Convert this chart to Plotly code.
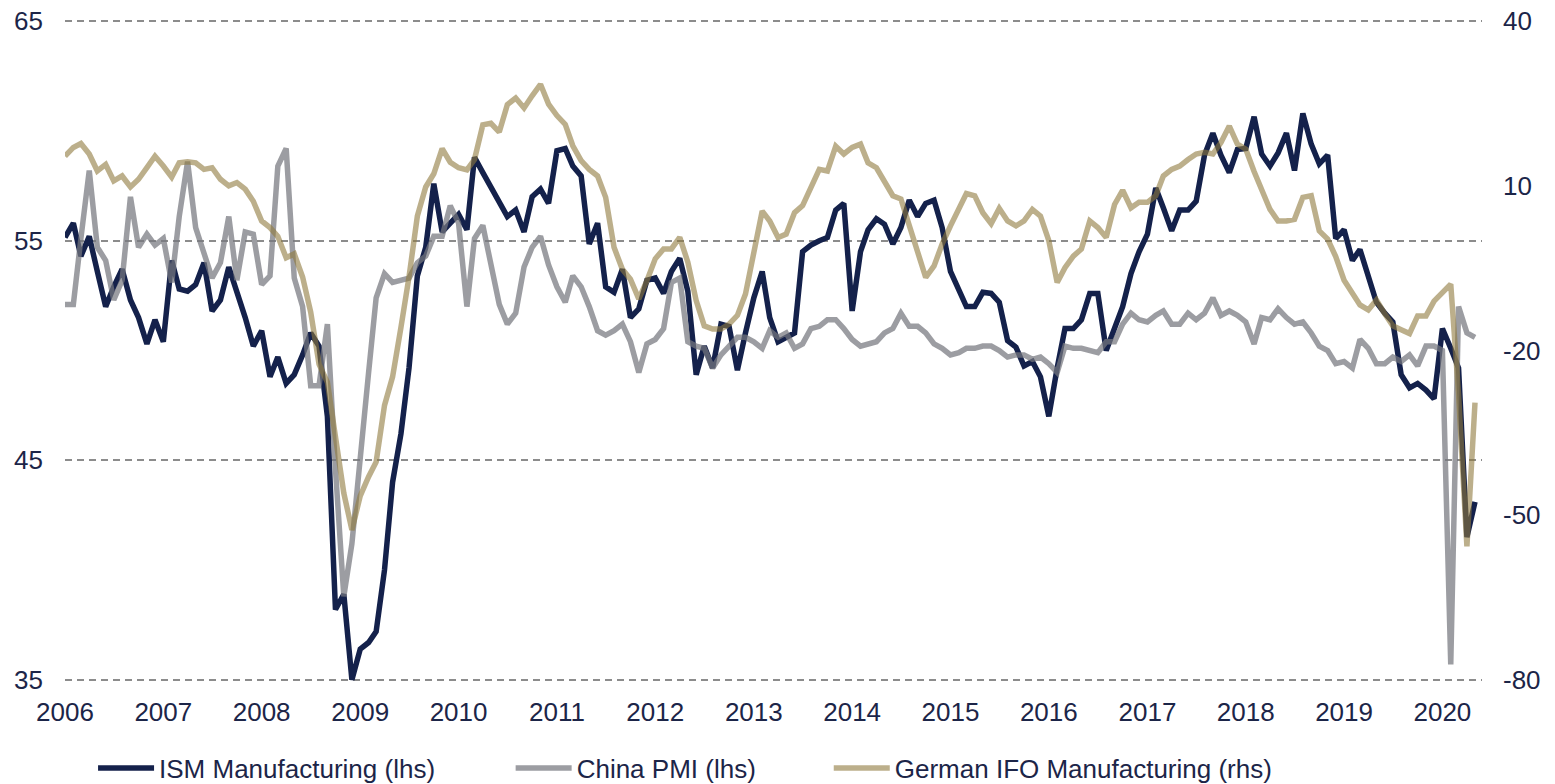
import pandas as pd
import plotly.graph_objects as go

# Monthly data, Jan 2006 - May 2020
months = pd.date_range("2006-01-01", periods=173, freq="MS")

ism = [
    55.15, 55.8, 54.3, 55.2, 53.6, 52.0, 52.9, 53.7, 52.3, 51.5, 50.3, 51.4,
    50.4, 54.1, 52.8, 52.7, 53.0, 54.0, 51.8, 52.3, 53.8, 52.7, 51.5, 50.2,
    50.9, 48.8, 49.7, 48.5, 48.9, 49.8, 50.8, 50.2, 47.0, 38.2, 38.9, 35.0,
    36.4, 36.7, 37.2, 40.0, 44.0, 46.2, 49.2, 53.4, 54.7, 57.6, 55.4, 55.8,
    56.2, 55.5, 58.8, 58.1, 57.4, 56.7, 56.1, 56.4, 55.4, 57.0, 57.35, 56.7,
    59.1, 59.2, 58.4, 57.95, 54.85, 55.8, 52.9, 52.65, 53.7, 51.5, 51.9, 53.2,
    53.3, 52.6, 53.6, 54.2, 52.7, 48.9, 50.2, 49.2, 51.2, 51.1, 49.1, 50.8,
    52.4, 53.6, 51.5, 50.4, 50.6, 50.8, 54.5, 54.8, 55.0, 55.15, 56.4, 56.7,
    51.8, 54.5, 55.5, 56.0, 55.75, 54.85, 55.6, 56.85, 56.1, 56.7, 56.85, 55.6,
    53.6, 52.7, 52.0, 52.0, 52.65, 52.6, 52.2, 50.45, 50.15, 49.3, 49.5, 48.8,
    47.0, 49.2, 51.0, 51.0, 51.4, 52.6, 52.6, 50.0, 51.1, 52.0, 53.5, 54.5,
    55.3, 57.4, 56.5, 55.45, 56.4, 56.4, 56.8, 58.9, 59.9, 58.9, 58.1, 59.15,
    59.2, 60.65, 58.95, 58.4, 59.0, 59.9, 58.2, 60.8, 59.4, 58.5, 58.9, 55.1,
    55.5, 54.1, 54.6, 53.3, 52.2, 51.7, 51.3, 48.9, 48.3, 48.5, 48.2, 47.8,
    51.0, 50.1, 49.2, 41.5, 43.1,
]

china_pmi = [
    52.1, 52.1, 55.1, 58.2, 54.7, 54.1, 52.3, 53.2, 57.0, 54.7, 55.3, 54.8,
    55.1, 53.1, 56.1, 58.6, 55.6, 54.4, 53.3, 54.0, 56.1, 53.2, 55.4, 55.3,
    53.0, 53.4, 58.4, 59.2, 53.3, 52.0, 48.4, 48.4, 51.2, 44.6, 38.8, 41.2,
    45.3, 49.0, 52.4, 53.5, 53.1, 53.2, 53.3, 54.0, 54.3, 55.2, 55.2, 56.6,
    55.8, 52.0, 55.1, 55.7, 53.9, 52.1, 51.2, 51.7, 53.8, 54.7, 55.2, 53.9,
    52.9, 52.2, 53.4, 52.9, 52.0, 50.9, 50.7, 50.9, 51.2, 50.4, 49.0, 50.3,
    50.5, 51.0, 53.1, 53.3, 50.4, 50.2, 50.1, 49.2, 49.8, 50.2, 50.6, 50.6,
    50.4, 50.1, 50.9, 50.6, 50.8, 50.1, 50.3, 51.0, 51.1, 51.4, 51.4, 51.0,
    50.5, 50.2, 50.3, 50.4, 50.8, 51.0, 51.7, 51.1, 51.1, 50.8, 50.3, 50.1,
    49.8, 49.9, 50.1, 50.1, 50.2, 50.2, 50.0, 49.7, 49.8, 49.8, 49.6, 49.7,
    49.4, 49.0, 50.2, 50.1, 50.1, 50.0, 49.9, 50.4, 50.4, 51.2, 51.7, 51.4,
    51.3, 51.6, 51.8, 51.2, 51.2, 51.7, 51.4, 51.7, 52.4, 51.6, 51.8, 51.6,
    51.3, 50.3, 51.5, 51.4, 51.9, 51.5, 51.2, 51.3, 50.8, 50.2, 50.0, 49.4,
    49.5, 49.2, 50.5, 50.1, 49.4, 49.4, 49.7, 49.5, 49.8, 49.3, 50.2, 50.2,
    50.0, 35.7, 52.0, 50.8, 50.6,
]

ifo_mfg = [
    15.4, 17.0, 17.7, 15.8, 12.7, 13.9, 10.9, 11.8, 9.8, 11.2, 13.3, 15.4,
    13.6, 11.6, 14.2, 14.4, 14.2, 13.0, 13.3, 11.2, 10.0, 10.6, 9.4, 7.2,
    3.6, 2.4, 0.8, -3.1, -2.4, -6.6, -13.0, -22.5, -25.8, -36.5, -46.0, -52.7,
    -46.5, -43.0, -40.3, -30.0, -24.8, -15.8, -6.6, 4.5, 9.8, 12.2, 16.8, 14.3,
    13.3, 12.9, 14.8, 21.1, 21.4, 19.8, 24.8, 26.0, 24.2, 26.4, 28.5, 24.9,
    22.8, 21.2, 17.3, 14.6, 13.0, 11.8, 7.9, -1.2, -5.2, -7.0, -10.6, -7.3,
    -3.3, -1.5, -1.5, 0.6, -3.9, -10.9, -15.5, -16.1, -16.1, -15.2, -13.6, -9.7,
    -2.6, 5.4, 3.6, 0.6, 1.2, 5.1, 6.4, 9.7, 13.0, 12.7, 17.2, 15.8,
    17.0, 17.6, 14.2, 13.3, 10.9, 8.2, 7.6, 3.0, -1.8, -6.7, -4.6, -0.6,
    2.7, 6.0, 8.6, 8.2, 5.1, 3.1, 5.9, 3.6, 2.7, 3.6, 5.7, 4.5,
    0.0, -7.6, -4.9, -2.8, -1.5, 3.6, 2.4, 0.6, 6.6, 9.2, 6.0, 7.0,
    7.0, 8.2, 11.8, 13.0, 13.6, 14.8, 15.8, 16.1, 15.8, 17.9, 20.9, 17.6,
    16.7, 12.6, 9.3, 5.7, 3.6, 3.6, 3.9, 7.9, 8.2, 1.8, 0.3, -2.9,
    -7.2, -9.7, -11.7, -12.6, -10.8, -13.3, -15.5, -16.2, -16.9, -13.7, -13.7, -11.0,
    -9.4, -7.9, -28.0, -55.7, -29.5,
]

series_names = ["ISM Manufacturing (lhs)", "China PMI (lhs)", "German IFO Manufacturing (rhs)"]
year_ticks = pd.date_range("2006-01-01", "2020-01-01", freq="YS")
year_labels = [str(d.year) for d in year_ticks]
lhs_ticks = [35, 45, 55, 65]
rhs_ticks = [-80, -50, -20, 10, 40]
rhs_labels = [str(v) for v in rhs_ticks]

NAVY = "#14214b"
GREY = "rgba(118,119,126,0.72)"
TAN = "rgba(143,121,62,0.6)"
TEXT = "#1c2548"
FONT = "Liberation Sans, Arial, sans-serif"
FS = 26
LW = 5.5

fig = go.Figure()
fig.add_trace(go.Scatter(x=months, y=ism, name=series_names[0], mode="lines",
                         line=dict(color=NAVY, width=LW), yaxis="y", legend="legend"))
fig.add_trace(go.Scatter(x=months, y=china_pmi, name=series_names[1], mode="lines",
                         line=dict(color=GREY, width=LW), yaxis="y", legend="legend2"))
fig.add_trace(go.Scatter(x=months, y=ifo_mfg, name=series_names[2], mode="lines",
                         line=dict(color=TAN, width=LW), yaxis="y2", legend="legend3"))

leg_common = dict(orientation="h", y=-0.13, yanchor="middle", xanchor="left",
                  font=dict(size=FS, color=TEXT, family=FONT), itemwidth=56,
                  bgcolor="rgba(0,0,0,0)", borderwidth=0)

fig.update_layout(
    width=1555, height=784,
    margin=dict(l=65, r=73, t=18.8, b=101.8, autoexpand=False),
    paper_bgcolor="white", plot_bgcolor="white",
    font=dict(family=FONT, size=FS, color=TEXT),
    showlegend=True,
    legend=dict(x=0.0198, **leg_common),
    legend2=dict(x=0.3145, **leg_common),
    legend3=dict(x=0.539, **leg_common),
    xaxis=dict(type="date", range=["2006-01-01", "2020-05-27"],
               tickvals=year_ticks, ticktext=year_labels,
               showgrid=False, zeroline=False, showline=False, ticks="",
               ticklabelstandoff=12, tickfont=dict(size=FS, color=TEXT)),
    yaxis=dict(range=[34.9, 65.1], tickvals=lhs_ticks, showgrid=True,
               gridcolor="#8c8c8c", griddash="7px,5px", gridwidth=1.5,
               zeroline=False, showline=False, ticks="",
               ticklabelstandoff=21, tickfont=dict(size=FS, color=TEXT)),
    yaxis2=dict(range=[-80.4, 40.4], tickvals=rhs_ticks, ticktext=rhs_labels,
                overlaying="y", side="right",
                showgrid=False, zeroline=False, showline=False, ticks="",
                ticklabelstandoff=20, tickfont=dict(size=FS, color=TEXT)),
)

fig.write_html("out.html", config={"displayModeBar": False},
               post_script="document.body.style.margin='0';")
